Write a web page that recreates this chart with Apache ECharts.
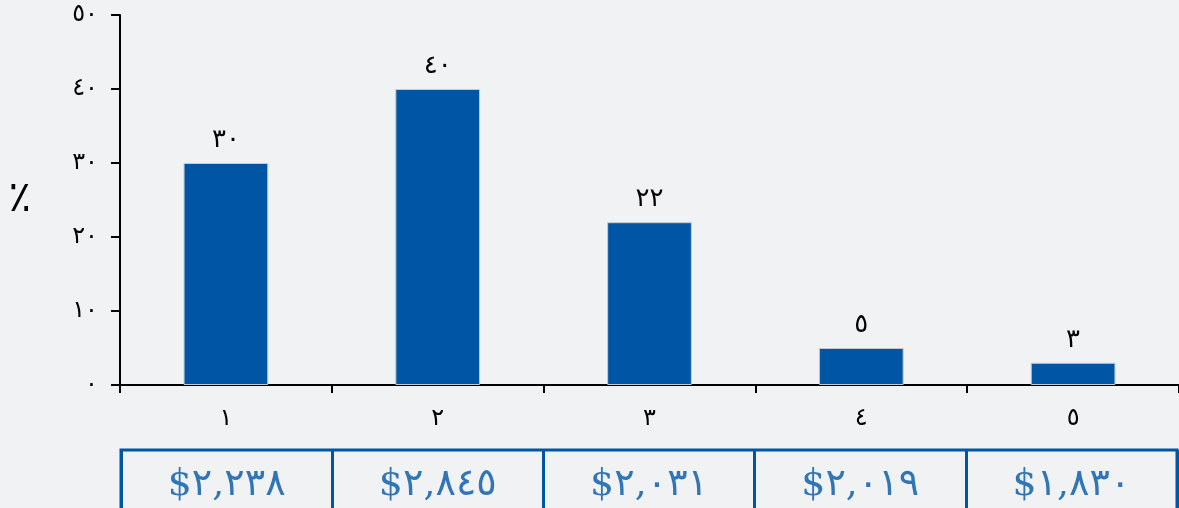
<!DOCTYPE html>
<html>
<head>
<meta charset="utf-8">
<script src="https://cdn.jsdelivr.net/npm/echarts@6/dist/echarts.min.js"></script>
<style>
  html, body { margin: 0; padding: 0; background: #f1f2f4; }
  #chart { width: 1179px; height: 508px; }
</style>
</head>
<body>
<div id="chart"></div>
<script>
// Quintile groups, share of respondents (%), and average cost per group
const categories = [1, 2, 3, 4, 5];
const shares = [30, 40, 22, 5, 3];
const costs = [2238, 2845, 2031, 2019, 1830];
const yTicks = [0, 10, 20, 30, 40, 50];

const BLUE = '#0055a5';
const FONT = '"DejaVu Serif", "DejaVu Sans", serif';

// Western digits -> Arabic-Indic digits
function ar(n) {
  return String(n).replace(/[0-9]/g, d => '٠١٢٣٤٥٦٧٨٩'[+d]);
}
function money(n) {
  return '$' + ar(n.toLocaleString('en-US'));
}

const chart = echarts.init(document.getElementById('chart'));
chart.setOption({
  backgroundColor: '#f1f2f4',
  animation: false,
  grid: [
    { left: 120, right: 0, top: 15, bottom: 123, outerBoundsMode: 'none', containLabel: false },
    { left: 121, right: 2, top: 450, height: 70, show: true, borderColor: BLUE, borderWidth: 3,
      backgroundColor: 'transparent', outerBoundsMode: 'none', containLabel: false }
  ],
  xAxis: [
    {
      type: 'category', gridIndex: 0,
      data: categories.map(ar),
      axisLine: { lineStyle: { color: '#000', width: 2 } },
      axisTick: { show: true, length: 8, lineStyle: { color: '#000', width: 2 } },
      axisLabel: { color: '#000', fontSize: 24, fontFamily: FONT, margin: 22 }
    },
    {
      type: 'category', gridIndex: 1,
      data: categories.map(ar),
      axisLine: { show: false },
      axisTick: { show: false },
      axisLabel: { show: false },
      splitLine: { show: true, lineStyle: { color: BLUE, width: 3 } }
    }
  ],
  yAxis: [
    {
      type: 'value', gridIndex: 0,
      min: 0, max: 50, interval: 10,
      name: '٪', nameLocation: 'middle', nameRotate: 0, nameGap: 89,
      nameTextStyle: { fontSize: 42, color: '#000', fontFamily: FONT },
      axisLine: { show: true, lineStyle: { color: '#000', width: 2 } },
      axisTick: { show: true, length: 9, lineStyle: { color: '#000', width: 2 } },
      axisLabel: { color: '#000', fontSize: 24, fontFamily: FONT, margin: 22,
        formatter: v => yTicks.includes(v) ? ar(v) : '' },
      splitLine: { show: false }
    },
    {
      type: 'value', gridIndex: 1, min: 0, max: 1,
      show: false, splitLine: { show: false }
    }
  ],
  series: [
    {
      type: 'bar', xAxisIndex: 0, yAxisIndex: 0,
      data: shares,
      barWidth: '40%',
      itemStyle: { color: BLUE, borderColor: '#c3cad5', borderWidth: 1 },
      label: {
        show: true, position: 'top', distance: 10,
        color: '#000', fontSize: 26, fontFamily: FONT,
        formatter: p => ar(p.value)
      }
    },
    {
      type: 'scatter', xAxisIndex: 1, yAxisIndex: 1,
      symbolSize: 0,
      data: costs.map((c, i) => [i, 0.5, c]),
      label: {
        show: true, position: 'inside',
        color: BLUE, fontSize: 38, fontFamily: FONT,
        formatter: p => money(p.value[2])
      },
      silent: true
    }
  ]
});
</script>
</body>
</html>
